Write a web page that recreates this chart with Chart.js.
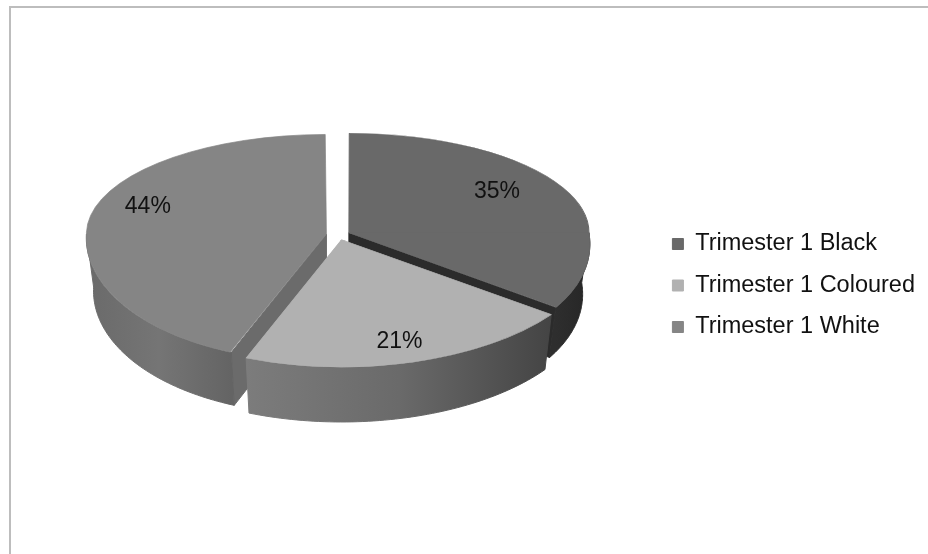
<!DOCTYPE html>
<html>
<head>
<meta charset="utf-8">
<style>
  html, body { margin:0; padding:0; background:#fff; }
  #wrap { width:928px; height:554px; position:relative; }
  #frame { position:absolute; left:9px; top:6px; width:940px; height:600px; border:2px solid #bdbdbd; }
  body { overflow:hidden; }
  canvas { position:absolute; left:0; top:0; }
</style>
<script src="https://cdn.jsdelivr.net/npm/chart.js@4"></script>
</head>
<body>
<div id="wrap"><div id="frame"></div><canvas id="pie" width="928" height="554"></canvas></div>
<script>
const categories = ['Trimester 1 Black', 'Trimester 1 Coloured', 'Trimester 1 White'];
const shares = [35, 21, 44];
const topColors = ['#696969', '#b1b1b1', '#858585'];

// fake 3d look: Chart.js arcs get squashed, back half and front half separately
const PIE_CY = 235;
const PIE_R = 240;
const BACK_K = 0.415, FRONT_K = 0.53;
const depths = [50, 55, 53];
const frontFit = [{a:1, c:0.09}, {a:1.08, c:0}, {a:1, c:-0.03}];   // x stretch and shear of front half
const labelNudge = [[-23,-5], [0,4], [10,-12]];
const cutColors = ['#2b2b2b', null, '#6b6b6b'];
const wallStops = [
  ['#2e2e2e', '#262626'],
  ['#7c7c7c', '#6a6a6a', '#444444'],
  ['#6a6a6a', '#757575', '#646464']
];

function apex(chart, arc){
  const mid = (arc.startAngle + arc.endAngle) / 2;
  const off = arc.options.offset / 4;
  return { x: arc.x + Math.cos(mid)*off, y: PIE_CY + Math.sin(mid)*off*BACK_K };
}

// Arc.draw grows the radius by offset/4 * (1 - sin(circumference))
function drawnRadius(arc){
  const fix = 1 - Math.sin(Math.min(Math.PI, arc.circumference));
  return arc.outerRadius + arc.options.offset / 4 * fix;
}

// circle point relative to apex -> screen
function project(p, i, dx, dy){
  if(dy < 0) return { x: p.x + dx, y: p.y + dy*BACK_K };
  const f = frontFit[i];
  return { x: p.x + dx*f.a + dy*f.c, y: p.y + dy*FRONT_K };
}

function drawWall(ctx, arc, i, chart){
  const p = apex(chart, arc), R = PIE_R, depth = depths[i];
  const shrink = 0.97;
  const a0 = Math.max(arc.startAngle, 0), a1 = Math.min(arc.endAngle, Math.PI);
  ctx.lineWidth = 1;
  // cut face going to the front-most corner
  const cutA = i === 0 ? arc.endAngle : arc.startAngle;
  if(cutColors[i]){
    const c = project(p, i, Math.cos(cutA)*R, Math.sin(cutA)*R);
    ctx.fillStyle = ctx.strokeStyle = cutColors[i];
    ctx.beginPath();
    ctx.moveTo(p.x, p.y);
    ctx.lineTo(c.x, c.y);
    ctx.lineTo(c.x + (p.x-c.x)*(1-shrink), c.y + depth);
    ctx.lineTo(p.x, p.y + depth);
    ctx.closePath();
    ctx.fill();
    ctx.stroke();
  }
  // outer rim
  const top = [], bottom = [];
  for(let n = 0; n <= 60; n++){
    const t = a0 + (a1-a0)*n/60;
    const q = project(p, i, Math.cos(t)*R, Math.sin(t)*R);
    top.push(q);
    bottom.push({ x: p.x + (q.x-p.x)*shrink, y: q.y + depth });
  }
  const g = ctx.createLinearGradient(top[0].x, 0, top[60].x, 0);
  const stops = wallStops[i];
  const ordered = top[0].x > top[60].x ? stops.slice().reverse() : stops;
  ordered.forEach((s, n) => g.addColorStop(n/(ordered.length-1), s));
  ctx.fillStyle = ctx.strokeStyle = g;
  ctx.beginPath();
  top.forEach((q, n) => n ? ctx.lineTo(q.x, q.y) : ctx.moveTo(q.x, q.y));
  bottom.reverse().forEach(q => ctx.lineTo(q.x, q.y));
  ctx.closePath();
  ctx.fill();
  ctx.stroke();
}

function drawTop(ctx, arc, i, chart){
  const p = apex(chart, arc), W = chart.width, H = chart.height;
  const mid = (arc.startAngle + arc.endAngle) / 2;
  const off = arc.options.offset / 4;
  const ox = arc.x + Math.cos(mid)*off, oy = arc.y + Math.sin(mid)*off;
  const f = frontFit[i];
  const s = PIE_R / drawnRadius(arc);
  // back half
  ctx.save();
  ctx.beginPath(); ctx.rect(0, 0, W, p.y + 1); ctx.clip();
  ctx.translate(p.x, p.y); ctx.scale(s, BACK_K*s); ctx.translate(-ox, -oy);
  arc.draw(ctx);
  ctx.restore();
  // front half
  ctx.save();
  ctx.beginPath(); ctx.rect(0, p.y, W, H-p.y); ctx.clip();
  ctx.transform(f.a*s, 0, f.c*s, FRONT_K*s, p.x, p.y);
  ctx.translate(-ox, -oy);
  arc.draw(ctx);
  ctx.restore();
}

const pie3d = {
  id: 'pie3d',
  beforeDatasetsDraw(chart){
    const ctx = chart.ctx, arcs = chart.getDatasetMeta(0).data;
    [0, 2, 1].forEach(i => {
      drawWall(ctx, arcs[i], i, chart);
      drawTop(ctx, arcs[i], i, chart);
    });
    // percent labels
    ctx.save();
    ctx.font = '23px "Liberation Sans", Arial, sans-serif';
    ctx.fillStyle = '#111';
    ctx.textAlign = 'center';
    ctx.textBaseline = 'middle';
    arcs.forEach((arc, i) => {
      const mid = (arc.startAngle + arc.endAngle) / 2;
      const r = PIE_R*0.8;
      const q = project(apex(chart, arc), i, Math.cos(mid)*r, Math.sin(mid)*r);
      ctx.fillText(shares[i] + '%', q.x + labelNudge[i][0], q.y + labelNudge[i][1]);
    });
    ctx.restore();
    return false;
  }
};

new Chart(document.getElementById('pie'), {
  type: 'pie',
  plugins: [pie3d],
  data: {
    labels: categories,
    datasets: [{ data: shares, backgroundColor: topColors, borderColor: topColors, borderWidth: 1, offset: 48, radius: 236 }]
  },
  options: {
    responsive: false,
    animation: false,
    layout: { padding: { top: 17, right: 3, left: 22 } },
    plugins: {
      tooltip: { enabled: false },
      legend: {
        position: 'right',
        labels: {
          boxWidth: 11, boxHeight: 11, padding: 18, color: '#111',
          font: { family: '"Liberation Sans", Arial, sans-serif', size: 23.5 }
        }
      }
    }
  }
});
</script>
</body>
</html>
